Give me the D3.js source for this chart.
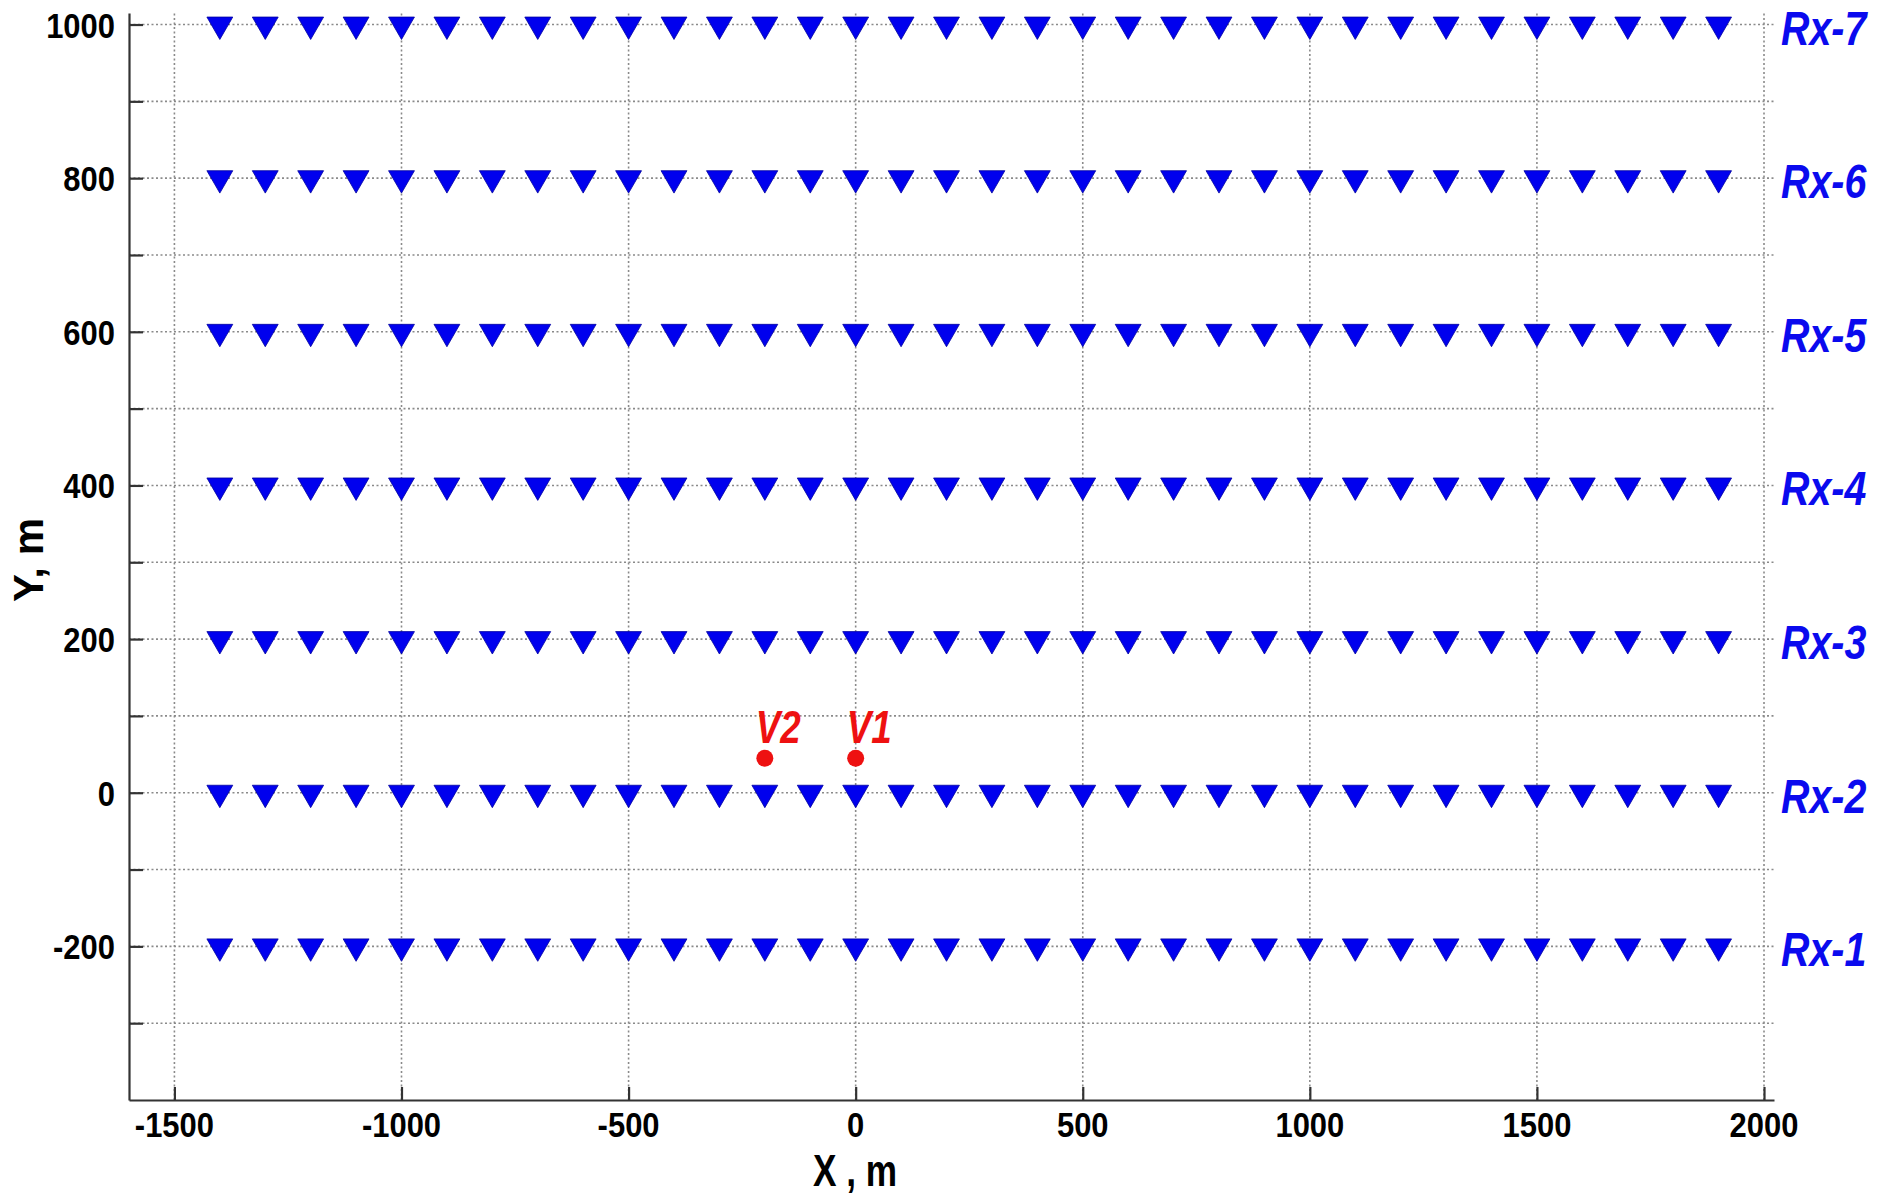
<!DOCTYPE html>
<html>
<head>
<meta charset="utf-8">
<script src="https://cdn.jsdelivr.net/npm/d3@7"></script>
<style>
  html, body { margin: 0; padding: 0; background: #fff; }
  svg { display: block; }
  text { font-family: "Liberation Sans", Arial, sans-serif; font-weight: bold; }
</style>
</head>
<body>
<svg id="chart" width="1894" height="1195"></svg>
<script>
// ---- data ----
const receiverX = [-1400, -1300, -1200, -1100, -1000, -900, -800, -700, -600, -500,
                   -400, -300, -200, -100, 0, 100, 200, 300, 400, 500,
                   600, 700, 800, 900, 1000, 1100, 1200, 1300, 1400, 1500,
                   1600, 1700, 1800, 1900];
const lineY = [-200, 0, 200, 400, 600, 800, 1000];
const lineNames = ["Rx-1", "Rx-2", "Rx-3", "Rx-4", "Rx-5", "Rx-6", "Rx-7"];
const sourceNames = ["V1", "V2"];
const sourceX = [0, -200];
const sourceY = [45, 45];
const xTicks = [-1500, -1000, -500, 0, 500, 1000, 1500, 2000];
const yTicks = [-200, 0, 200, 400, 600, 800, 1000];
const yGridTicks = [-300, -200, -100, 0, 100, 200, 300, 400, 500, 600, 700, 800, 900, 1000];
const xLabel = "X , m";
const yLabel = "Y, m";

// ---- layout ----
const svg = d3.select("#chart");
const x = d3.scaleLinear().domain([-1600, 2022]).range([129, 1774]);
const y = d3.scaleLinear().domain([-400, 1015]).range([1100, 13]);

const gridColor = "#8a8a8a";
const axisColor = "#333";

// grid
const grid = svg.append("g");
grid.selectAll("line.hg").data(yGridTicks).join("line")
  .attr("x1", x.range()[0]).attr("x2", x.range()[1])
  .attr("y1", d => y(d)).attr("y2", d => y(d))
  .attr("stroke", gridColor).attr("stroke-width", 1.6)
  .attr("stroke-dasharray", "2,2.5");
grid.selectAll("line.vg").data(xTicks).join("line")
  .attr("y1", y.range()[0]).attr("y2", y.range()[1])
  .attr("x1", d => x(d)).attr("x2", d => x(d))
  .attr("stroke", gridColor).attr("stroke-width", 1.6)
  .attr("stroke-dasharray", "2,2.5");

// axes (ticks inward)
const xAxis = d3.axisBottom(x).tickValues(xTicks).tickSizeInner(-13).tickSizeOuter(0).tickFormat("");
const gx = svg.append("g").attr("transform", `translate(0,${y.range()[0]})`).call(xAxis);
const yAxis = d3.axisLeft(y).tickValues(yGridTicks).tickSizeInner(-14).tickSizeOuter(0).tickFormat("");
const gy = svg.append("g").attr("transform", `translate(${x.range()[0]},0)`).call(yAxis);
[gx, gy].forEach(g => {
  g.select(".domain").attr("stroke", axisColor).attr("stroke-width", 2.2);
  g.selectAll(".tick line").attr("stroke", axisColor).attr("stroke-width", 2.2);
});

// tick labels (condensed look)
svg.append("g").selectAll("text").data(xTicks).join("text")
  .attr("transform", d => `translate(${x(d)},1137) scale(0.86,1)`)
  .attr("text-anchor", "middle")
  .attr("font-size", 36).attr("fill", "#000")
  .text(d => d);
svg.append("g").selectAll("text").data(yTicks).join("text")
  .attr("transform", d => `translate(115,${y(d) + 13}) scale(0.86,1)`)
  .attr("text-anchor", "end")
  .attr("font-size", 36).attr("fill", "#000")
  .text(d => d);

// axis titles
svg.append("text")
  .attr("transform", `translate(855,1186) scale(0.8,1)`)
  .attr("text-anchor", "middle").attr("font-size", 44).attr("fill", "#000")
  .text(xLabel);
svg.append("text")
  .attr("transform", `translate(43,560) rotate(-90)`)
  .attr("text-anchor", "middle").attr("font-size", 42).attr("fill", "#000")
  .text(yLabel);

// receivers
const tri = d3.symbol().type(d3.symbolTriangle).size(290);
const rows = svg.append("g").selectAll("g").data(lineY).join("g");
rows.selectAll("path").data(ly => receiverX.map(rx => [rx, ly])).join("path")
  .attr("d", tri)
  .attr("transform", d => `translate(${x(d[0])},${y(d[1])}) rotate(180)`)
  .attr("fill", "#0000ee").attr("stroke", "#0000a0").attr("stroke-width", 0.8);

// line labels
svg.append("g").selectAll("text").data(lineY).join("text")
  .attr("transform", d => `translate(${x(2000) + 17},${y(d) + 20}) scale(0.82,1)`)
  .attr("font-size", 48).attr("font-style", "italic").attr("fill", "#0a0aee")
  .text((d, i) => lineNames[i]);

// sources
const src = svg.append("g");
src.selectAll("circle").data(sourceX).join("circle")
  .attr("cx", d => x(d)).attr("cy", (d, i) => y(sourceY[i]))
  .attr("r", 8.5).attr("fill", "#ee1111");
src.selectAll("text").data(sourceX).join("text")
  .attr("transform", (d, i) => `translate(${x(d) - 9},${y(sourceY[i]) - 15}) scale(0.8,1)`)
  .attr("font-size", 46).attr("font-style", "italic").attr("fill", "#ee1111")
  .text((d, i) => sourceNames[i]);
</script>
</body>
</html>
